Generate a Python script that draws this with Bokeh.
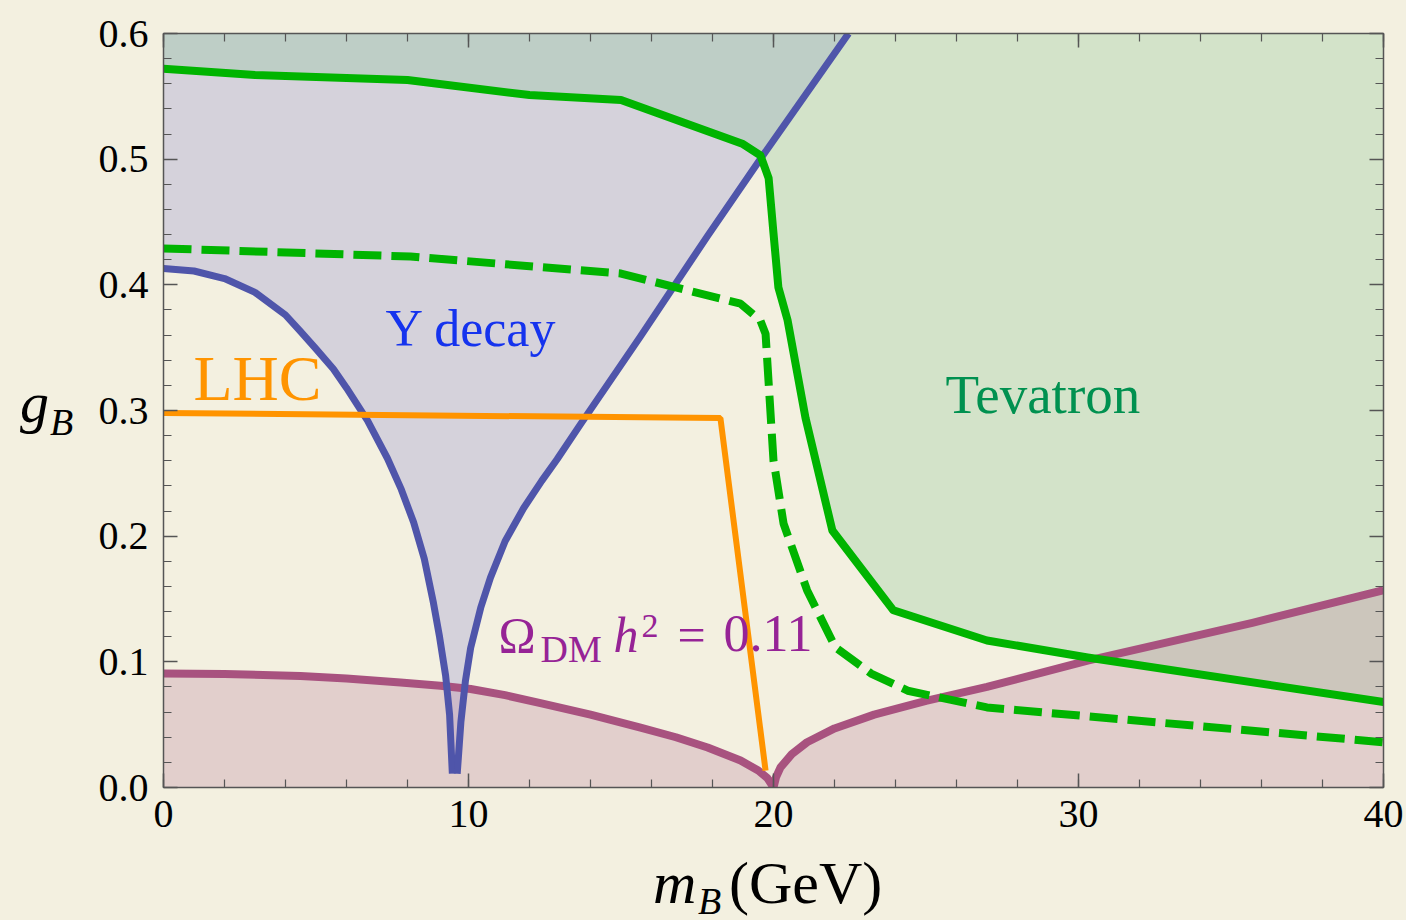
from bokeh.plotting import figure
from bokeh.models import Range1d, LinearAxis, FixedTicker, PrintfTickFormatter, CustomJSTickFormatter, Label, Div
from bokeh.layouts import row, column
from bokeh.embed import file_html
from bokeh.resources import INLINE

# ---- data ----
tev_x = [0, 3, 8, 12, 15, 19.0, 19.57, 19.84, 20.0, 20.16, 20.46, 21.05, 21.93, 23.93, 27.0, 30.3, 40]
tev_y = [0.572, 0.567, 0.563, 0.551, 0.547, 0.512, 0.503, 0.485, 0.441, 0.398, 0.372, 0.294, 0.2045, 0.141, 0.117, 0.1035, 0.068]

tevd_x = [0, 8.1, 15, 18.92, 19.57, 19.74, 20.0, 20.07, 20.33, 21.1, 22.03, 23.2, 24.4, 27.0, 40]
tevd_y = [0.429, 0.4225, 0.409, 0.385, 0.3716, 0.361, 0.260, 0.25, 0.21, 0.157, 0.1115, 0.0907, 0.077, 0.0637, 0.036]

ups_left_x = [0, 1, 2, 3, 4, 4.49, 5, 5.57, 6, 6.69, 7.34, 7.8, 8.2, 8.55, 8.85, 9.05, 9.25, 9.38, 9.47]
ups_left_y = [0.413, 0.411, 0.405, 0.394, 0.376, 0.363, 0.349, 0.333, 0.318, 0.292, 0.262, 0.237, 0.211, 0.182, 0.147, 0.120, 0.089, 0.058, 0.011]
ups_right_x = [9.63, 9.75, 9.9, 10.07, 10.4, 10.72, 11.2, 11.8, 12.4, 12.9, 13.67, 15.64, 17.84, 19.48, 22.46]
ups_right_y = [0.011, 0.052, 0.085, 0.111, 0.143, 0.167, 0.196, 0.222, 0.244, 0.261, 0.289, 0.359, 0.439, 0.497, 0.6]

om_x = [0, 2, 4.49, 6, 7.77, 9.08, 10.07, 11.2, 12.36, 14, 15.64, 16.8, 17.84, 18.92, 19.5, 19.8, 20.0,
        20.08, 20.23, 20.6, 21.1, 22.0, 23.3, 25.0, 27.0, 30.3, 35.7, 40]
om_y = [0.0907, 0.0903, 0.0888, 0.0868, 0.0836, 0.081, 0.0784, 0.0735, 0.0672, 0.058, 0.0477, 0.040, 0.0318, 0.0215, 0.0135, 0.0075, 0.0,
        0.008, 0.016, 0.0265, 0.036, 0.047, 0.058, 0.069, 0.080, 0.101, 0.131, 0.157]

lhc_x = [0, 18.26, 19.74]
lhc_y = [0.298, 0.294, 0.0135]

x_ticks = [0, 10, 20, 30, 40]
x_minor = [2 * i for i in range(21)]
y_ticks = [0.0, 0.1, 0.2, 0.3, 0.4, 0.5, 0.6]
y_minor = [round(0.02 * i, 2) for i in range(31)]

BG = "#F3F0E0"
SERIF = "Liberation Serif"

LEFT_W = 90          # width of the left title strip
FIG_H = 850          # figure height
BOT_H = 920 - FIG_H  # bottom title strip

p = figure(width=1406 - LEFT_W, height=FIG_H, output_backend="svg", toolbar_location=None,
           x_range=Range1d(0, 40), y_range=Range1d(0, 0.6),
           min_border_left=163 - LEFT_W, min_border_right=23, min_border_top=33,
           min_border_bottom=FIG_H - 787,
           x_axis_location=None, y_axis_location=None, margin=0,
           styles={"background-color": BG})
p.background_fill_color = BG
p.border_fill_color = BG
p.outline_line_color = None
p.xgrid.visible = False
p.ygrid.visible = False

# fills
ups_x = ups_left_x + ups_right_x
ups_y = ups_left_y + ups_right_y
p.varea(x=ups_x, y1=ups_y, y2=0.6, fill_color="#928ED1", fill_alpha=0.3)
p.varea(x=tev_x, y1=tev_y, y2=0.6, fill_color="#8CC795", fill_alpha=0.3)
p.varea(x=om_x, y1=0, y2=om_y, fill_color="#BE849F", fill_alpha=0.3)

# lines
p.line(om_x, om_y, line_color="#A8527F", line_width=8, line_join="round")
p.line(ups_left_x, ups_left_y, line_color="#4F55AA", line_width=7, line_join="round")
p.line(ups_right_x, ups_right_y, line_color="#4F55AA", line_width=7, line_join="round")
p.line(lhc_x, lhc_y, line_color="#FF9400", line_width=6)
p.line(tevd_x, tevd_y, line_color="#00B400", line_width=8, line_dash="28 10")
p.line(tev_x, tev_y, line_color="#00B400", line_width=8, line_join="round")

# axes
def style(ax, labels):
    ax.axis_line_color = "#555555"
    ax.axis_line_width = 1.5
    ax.major_tick_line_color = "#555555"
    ax.minor_tick_line_color = "#555555"
    ax.major_tick_line_width = 1.5
    ax.minor_tick_line_width = 1.2
    ax.major_tick_in = 14
    ax.major_tick_out = 0
    ax.minor_tick_in = 8
    ax.minor_tick_out = 0
    if labels:
        ax.major_label_text_font = SERIF
        ax.major_label_text_font_size = "40px"
        ax.major_label_text_color = "black"
    else:
        ax.formatter = CustomJSTickFormatter(code="return ''")
        ax.major_label_text_font_size = "0px"
        ax.major_label_standoff = 0

xb = LinearAxis(ticker=FixedTicker(ticks=x_ticks, minor_ticks=x_minor),
                formatter=PrintfTickFormatter(format="%d"))
style(xb, True)
xb.major_label_standoff = 13
p.add_layout(xb, "below")
xt = LinearAxis(ticker=FixedTicker(ticks=x_ticks, minor_ticks=x_minor))
style(xt, False)
p.add_layout(xt, "above")
yl = LinearAxis(ticker=FixedTicker(ticks=y_ticks, minor_ticks=y_minor),
                formatter=PrintfTickFormatter(format="%.1f"))
style(yl, True)
yl.major_label_standoff = 15
p.add_layout(yl, "left")
yr = LinearAxis(ticker=FixedTicker(ticks=y_ticks, minor_ticks=y_minor))
style(yr, False)
p.add_layout(yr, "right")

PX_PER_Y = 754 / 0.6
def lab(x, baseline_px, t, size, color, style="normal"):
    # baseline_px: desired baseline in pixels from the top of the page; Bokeh draws the
    # alphabetic baseline ~0.38em below the anchor, so compensate here
    y = (787 - (baseline_px - 0.38 * size)) / PX_PER_Y
    p.add_layout(Label(x=x, y=y, text=t, text_font=SERIF, text_font_size=f"{size}px",
                       text_color=color, text_font_style=style, text_baseline="alphabetic",
                       text_align="left"))

lab(0.98, 402, "LHC", 64, "#FF9400")
lab(7.28, 348, "\u03a5 decay", 52, "#1533EE")
lab(25.64, 415, "Tevatron", 55, "#009150")
OM = "#962396"
lab(10.98, 653, "\u03a9", 50, OM)
lab(12.36, 663, "DM", 38, OM)
lab(14.75, 653, "h", 50, OM, "italic")
lab(15.67, 638, "2", 34, OM)
lab(16.85, 653, "=", 50, OM)
lab(18.36, 653, "0.11", 52, OM)

# axis titles as HTML strips beside the figure
def span(left, baseline, txt, size, italic):
    top = baseline - 0.8375 * size
    st = "italic" if italic else "normal"
    return (f'<span style="position:absolute;left:{left}px;top:{top:.1f}px;font-size:{size}px;'
            f'font-style:{st};line-height:1;white-space:nowrap">{txt}</span>')

left_html = (f'<div style="position:relative;width:{LEFT_W}px;height:{FIG_H}px;background:{BG};'
             f"font-family:'{SERIF}';color:black\">"
             + span(20, 423, "g", 58, True) + span(50, 435, "B", 38, True) + "</div>")
bot_html = (f'<div style="position:relative;width:1406px;height:{BOT_H}px;background:{BG};'
            f"font-family:'{SERIF}';color:black\">"
            + span(653, 903 - FIG_H, "m", 60, True)
            + span(698, 914 - FIG_H, "B", 38, True)
            + span(729, 903 - FIG_H, "(GeV)", 60, False) + "</div>")

div_left = Div(text=left_html, width=LEFT_W, height=FIG_H, margin=0,
               styles={"background-color": BG})
div_bot = Div(text=bot_html, width=1406, height=BOT_H, margin=0,
              styles={"background-color": BG})

layout = column(row(div_left, p, spacing=0, margin=0, styles={"background-color": BG}),
                div_bot, spacing=0, margin=0, styles={"background-color": BG})
open("out.html", "w").write(file_html(layout, INLINE))
